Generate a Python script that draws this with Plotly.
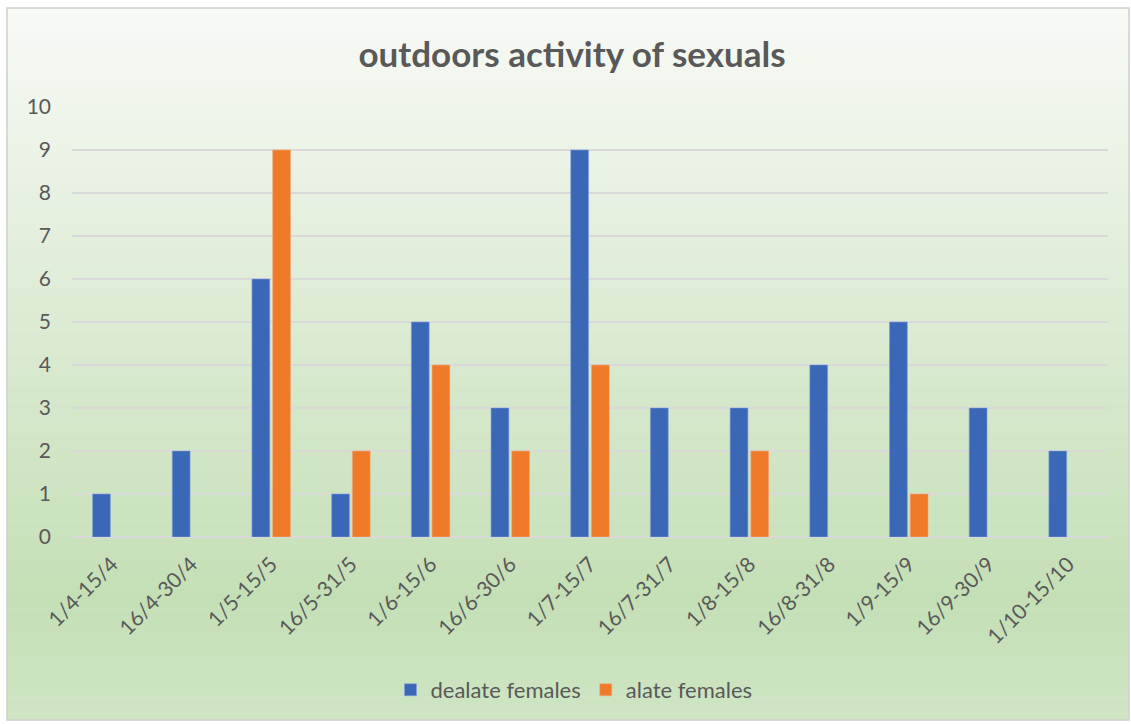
import plotly.graph_objects as go

categories = ["1/4-15/4", "16/4-30/4", "1/5-15/5", "16/5-31/5", "1/6-15/6", "16/6-30/6",
              "1/7-15/7", "16/7-31/7", "1/8-15/8", "16/8-31/8", "1/9-15/9", "16/9-30/9", "1/10-15/10"]
dealate = [1, 2, 6, 1, 5, 3, 9, 3, 3, 4, 5, 3, 2]
alate = [None, None, 9, 2, 4, 2, 4, None, 2, None, 1, None, None]

W, H = 1131, 724
L, R, T, B = 72, 23, 107, 187
pw, ph = W - L - R, H - T - B

def px2x(px):
    return (px - L) / pw

def py2y(py):
    return (H - B - py) / ph

fig = go.Figure()
fig.add_trace(go.Bar(x=categories, y=dealate, name="dealate females",
                     marker=dict(color="#3A67B6", line=dict(color="#7f9fd6", width=0.6))))
fig.add_trace(go.Bar(x=categories, y=alate, name="alate females",
                     marker=dict(color="#EE7A2A", line=dict(color="#f4a878", width=0.6))))

# gradient background bands
stops = [(8, (248, 250, 246)), (300, (222, 236, 214)), (600, (196, 223, 182)), (720, (207, 229, 196))]
def col_at(py):
    for (y0, c0), (y1, c1) in zip(stops, stops[1:]):
        if y0 <= py <= y1:
            t = (py - y0) / (y1 - y0)
            return tuple(round(a + (b - a) * t) for a, b in zip(c0, c1))
    return stops[-1][1]

shapes = []
n = 90
top, bot = 8, 720
for i in range(n):
    y0 = top + (bot - top) * i / n
    y1 = top + (bot - top) * (i + 1) / n + 0.6
    c = col_at((y0 + y1) / 2)
    shapes.append(dict(type="rect", xref="paper", yref="paper",
                       x0=px2x(7), x1=px2x(1129), y0=py2y(y1), y1=py2y(y0),
                       fillcolor="rgb(%d,%d,%d)" % c, line=dict(width=0), layer="below"))
shapes.append(dict(type="rect", xref="paper", yref="paper",
                   x0=px2x(7), x1=px2x(1129), y0=py2y(720), y1=py2y(8),
                   fillcolor="rgba(0,0,0,0)", line=dict(color="#d0d0d0", width=1.5), layer="below"))

fig.update_layout(
    width=W, height=H,
    margin=dict(l=L, r=R, t=T, b=B),
    paper_bgcolor="white", plot_bgcolor="rgba(0,0,0,0)",
    shapes=shapes,
    barmode="group", bargap=0.48, bargroupgap=0.14,
    font=dict(family="Lato, Open Sans, sans-serif", color="#595959"),
    title=dict(text="<b>outdoors activity of sexuals</b>", x=572 / W, xanchor="center",
               y=1 - 55 / H, yanchor="middle",
               font=dict(size=35, color="#595959", family="Lato, Open Sans, sans-serif")),
    legend=dict(orientation="h", x=px2x(574), xanchor="center", y=py2y(690), yanchor="middle",
                font=dict(size=22, color="#595959"), bgcolor="rgba(0,0,0,0)",
                itemwidth=30, traceorder="normal"),
    showlegend=True,
)
fig.update_yaxes(range=[0, 10], dtick=1, showgrid=True, gridcolor="#d9d9d9", gridwidth=1.5,
                 zeroline=True, zerolinecolor="#d9d9d9", zerolinewidth=1.5,
                 tickfont=dict(size=21, color="#595959"), ticks="", showline=False,
                 ticklabelstandoff=20)
fig.update_xaxes(tickangle=-45, tickfont=dict(size=21, color="#595959"), ticks="",
                 showline=False, showgrid=False, ticklabelstandoff=10)

fig.write_html("out.html")
